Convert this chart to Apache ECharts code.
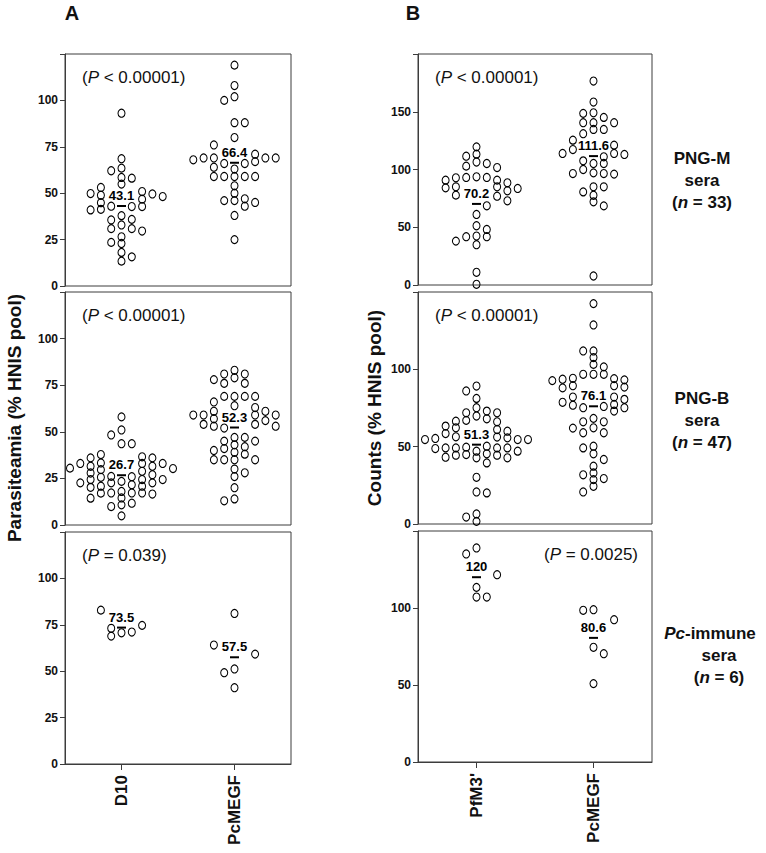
<!DOCTYPE html>
<html>
<head>
<meta charset="utf-8">
<script src="https://cdn.jsdelivr.net/npm/echarts@6.0.0/dist/echarts.min.js"></script>
<style>
html,body{margin:0;padding:0;background:#fff;}
#chart{width:766px;height:853px;}
</style>
</head>
<body>
<div id="chart"></div>
<script>
// ---------------- DATA ----------------
const catsA = ['D10', 'PcMEGF'];
const catsB = ["PfM3'", 'PcMEGF'];

// Panel A (Parasiteamia, % HNIS pool)
const aTopD10 = [93.1, 68.6, 63.5, 62.1, 58.5, 58.1, 54.9, 53.1, 50.9, 49.8, 49.6, 48.9, 48.2, 46.8, 44.9, 43.0, 42.8, 42.8, 41.3, 41.0, 37.9, 35.9, 35.6, 32.9, 30.9, 30.9, 29.6, 26.5, 23.5, 22.9, 18.1, 15.7, 13.4];
const aTopPcMEGF = [119, 108, 102, 100, 88, 88, 80, 76, 71, 69, 69, 69, 69, 68, 67, 66, 66, 64, 63, 59, 59, 59, 59, 59, 54, 50, 47, 46, 46, 45, 43, 38, 25];
const aMidD10 = [58.0, 51.0, 48.3, 43.6, 43.6, 37.8, 36.6, 36.0, 36.0, 33.3, 33.0, 33.0, 33.0, 31.5, 31.5, 30.5, 30.3, 29.7, 28.8, 27.9, 27.0, 26.1, 25.9, 25.6, 24.4, 24.4, 24.4, 23.4, 22.6, 22.6, 22.6, 21.6, 20.8, 20.8, 20.2, 18.0, 17.2, 17.2, 17.2, 17.1, 16.6, 14.5, 14.4, 11.7, 10.8, 9.9, 4.9];
const aMidPcMEGF = [83, 81, 81, 79, 78, 76, 76, 69, 69, 69, 69, 66, 64, 63, 61, 61, 59, 59, 59, 59, 57, 56, 54, 54, 53, 53, 52, 47, 47, 45, 45, 43, 42, 41, 40, 39, 38, 35, 35, 35, 35, 30, 28, 26, 20, 14, 13];
const aBotD10 = [82.9, 74.7, 73.1, 71.1, 70.7, 68.9];
const aBotPcMEGF = [81.1, 64.1, 59.2, 51.2, 49.2, 41.1];

// Panel B (Counts, % HNIS pool)
const bTopPfM3 = [119.6, 113.3, 111.5, 106.5, 105.2, 102.9, 101.7, 93.7, 93.1, 93.1, 92.8, 90.8, 90.8, 88.5, 85.0, 85.0, 84.1, 83.6, 81.6, 77.8, 76.9, 72.9, 68.6, 61.1, 51.3, 48.1, 42.4, 41.8, 41.8, 38.0, 34.9, 11.0, 0.6];
const bTopPcMEGF = [176.6, 158.4, 149.1, 148.6, 145.1, 140.5, 140.5, 140.5, 134.7, 134.7, 131.0, 125.4, 121.1, 117.3, 113.9, 113.9, 113.0, 111.0, 107.5, 105.2, 105.2, 100.0, 97.1, 96.5, 96.5, 96.0, 85.0, 85.0, 80.6, 77.7, 72.0, 68.5, 7.8];
const bMidPfM3 = [89.2, 86.0, 81.2, 75.2, 73.0, 71.9, 71.9, 69.8, 68.0, 67.0, 66.5, 66.1, 63.3, 62.2, 61.1, 60.0, 58.5, 56.4, 56.2, 55.7, 55.3, 54.6, 54.6, 54.6, 50.3, 49.7, 49.2, 49.2, 49.2, 49.2, 48.8, 47.1, 47.1, 45.4, 44.9, 44.5, 44.5, 43.2, 42.8, 42.8, 39.5, 30.2, 20.7, 20.1, 6.5, 4.5, 1.7];
const bMidPcMEGF = [142.5, 128.7, 111.9, 111.9, 107.6, 103.2, 101.6, 96.8, 96.8, 96.8, 94.2, 94.0, 93.6, 93.2, 92.7, 89.4, 89.4, 88.5, 88.0, 82.1, 82.1, 80.6, 78.7, 77.3, 76.8, 76.0, 75.2, 75.2, 73.0, 68.3, 66.1, 66.1, 62.2, 62.0, 59.0, 59.0, 50.3, 49.2, 45.4, 41.7, 37.4, 33.0, 31.8, 29.4, 28.7, 24.4, 20.7];
const bBotPfM3 = [139.0, 135.1, 121.6, 113.4, 107.1, 107.1];
const bBotPcMEGF = [98.9, 98.5, 92.4, 74.5, 70.3, 50.9];

// Group means (as printed)
const meansA = [[43.1, 66.4], [26.7, 52.3], [73.5, 57.5]];
const meansB = [[70.2, 111.6], [51.3, 76.1], [120, 80.6]];

// P values (as printed)
const pTextsA = ['< 0.00001', '< 0.00001', '= 0.039'];
const pTextsB = ['< 0.00001', '< 0.00001', '= 0.0025'];

// Axis ranges & tick labels
const yMaxA = [125, 125, 125];
const yMaxB = [200, 150, 150];
const yStepA = 25;
const yStepB = 50;
const yTicksA = [0, 25, 50, 75, 100];
const yTicksB = [[0, 50, 100, 150], [0, 50, 100], [0, 50, 100]];

// Row annotations
const rowNames = ['PNG-M', 'PNG-B', 'Pc-immune'];
const rowN = [33, 47, 6];

// ---------------- LAYOUT ----------------
const FONT = "'Liberation Sans', Arial, Helvetica, sans-serif";
const INK = '#111';
const FRAME = '#3c3c3c';
const colGeom = { A: { left: 65, width: 226 }, B: { left: 418, width: 234 } };
const rowGeom = {
  A: [{ top: 54, height: 232 }, { top: 292, height: 233 }, { top: 532, height: 232 }],
  B: [{ top: 54, height: 231 }, { top: 292, height: 232 }, { top: 531, height: 231 }]
};
const DOT_W = 7, DOT_H = 8, COL_STEP = 10.3, GAP = 6.5;

function fmt(v) { return Number.isInteger(v) ? String(v) : v.toFixed(1); }
function labelHalfWidth(m) {
  let w = 0;
  for (const ch of fmt(m)) w += (ch === '.') ? 0.278 : 0.556;
  return w * 13 / 2;
}

// Column beeswarm layout computed from the values (returns x offsets in axis units)
function swarm(vals, mean, pxPerY, unitsPerPx) {
  const order = vals.map((v, i) => i).sort((a, b) => vals[b] - vals[a]);
  const cols = new Map();
  const out = new Array(vals.length).fill(0);
  const my = mean * pxPerY;
  const hw = labelHalfWidth(mean);
  let flip = false;
  for (const i of order) {
    const y = vals[i] * pxPerY;
    let done = false;
    for (let k = 0; k < 40 && !done; k++) {
      let cands = [0];
      if (k > 0) {
        const a = (cols.get(-k) || []).length, b = (cols.get(k) || []).length;
        cands = (a < b || (a === b && !flip)) ? [-k, k] : [k, -k];
      }
      for (const c of cands) {
        const list = cols.get(c) || [];
        if (list.some(yy => Math.abs(yy - y) < GAP)) continue;
        const cx = Math.abs(c) * COL_STEP;
        if (cx - DOT_W / 2 < hw) {
          if (y > my + 0.5 && y < my + 21.5) continue;
          if (c === 0 && y > my - 5 && y <= my + 0.5) continue;
        }
        list.push(y);
        cols.set(c, list);
        out[i] = c * COL_STEP * unitsPerPx;
        if (k > 0) flip = !flip;
        done = true;
        break;
      }
    }
  }
  return out;
}

const panels = [
  { col: 'A', row: 0, groups: [aTopD10, aTopPcMEGF], means: meansA[0], cats: catsA, p: pTextsA[0], yMax: yMaxA[0], yStep: yStepA, ticks: yTicksA },
  { col: 'A', row: 1, groups: [aMidD10, aMidPcMEGF], means: meansA[1], cats: catsA, p: pTextsA[1], yMax: yMaxA[1], yStep: yStepA, ticks: yTicksA },
  { col: 'A', row: 2, groups: [aBotD10, aBotPcMEGF], means: meansA[2], cats: catsA, p: pTextsA[2], yMax: yMaxA[2], yStep: yStepA, ticks: yTicksA },
  { col: 'B', row: 0, groups: [bTopPfM3, bTopPcMEGF], means: meansB[0], cats: catsB, p: pTextsB[0], yMax: yMaxB[0], yStep: yStepB, ticks: yTicksB[0] },
  { col: 'B', row: 1, groups: [bMidPfM3, bMidPcMEGF], means: meansB[1], cats: catsB, p: pTextsB[1], yMax: yMaxB[1], yStep: yStepB, ticks: yTicksB[1] },
  { col: 'B', row: 2, groups: [bBotPfM3, bBotPcMEGF], means: meansB[2], cats: catsB, p: pTextsB[2], yMax: yMaxB[2], yStep: yStepB, ticks: yTicksB[2] }
];

const grid = [], xAxis = [], yAxis = [], series = [], graphic = [];

panels.forEach((P, i) => {
  const cg = colGeom[P.col], rg = rowGeom[P.col][P.row];
  grid.push({
    left: cg.left, top: rg.top, width: cg.width, height: rg.height,
    show: true, borderColor: FRAME, borderWidth: 1, backgroundColor: 'transparent',
    containLabel: false, outerBoundsMode: 'none'
  });
  // hidden value axis for positioning the swarm
  xAxis.push({ type: 'value', gridIndex: i, min: -0.5, max: 1.5, show: false, position: 'bottom' });
  // category axis for ticks/labels
  const isBottom = P.row === 2;
  xAxis.push({
    type: 'category', gridIndex: i, data: P.cats, boundaryGap: true, show: isBottom,
    position: 'bottom', offset: 0,
    axisLine: { show: true, onZero: false, lineStyle: { color: FRAME, width: 1 } },
    axisTick: { show: true, alignWithLabel: true, length: 6, lineStyle: { color: FRAME } },
    axisLabel: { rotate: 90, margin: 11, color: INK, fontFamily: FONT, fontWeight: 'bold', fontSize: 17 },
    splitLine: { show: false }
  });
  const ticks = P.ticks;
  yAxis.push({
    type: 'value', gridIndex: i, min: 0, max: P.yMax, interval: P.yStep, position: 'left',
    axisLine: { show: true, onZero: false, lineStyle: { color: FRAME, width: 1 } },
    axisTick: { show: true, length: 5, lineStyle: { color: FRAME } },
    axisLabel: {
      margin: 7, color: INK, fontFamily: FONT, fontWeight: 'bold', fontSize: 12,
      formatter: v => ticks.includes(v) ? String(v) : ''
    },
    splitLine: { show: false }
  });
  const pxPerY = rg.height / P.yMax;
  const unitsPerPx = 2 / cg.width;
  P.groups.forEach((vals, g) => {
    const offs = swarm(vals, P.means[g], pxPerY, unitsPerPx);
    series.push({
      type: 'scatter', xAxisIndex: 2 * i, yAxisIndex: i,
      data: vals.map((v, k) => [g + offs[k], v]),
      symbol: 'circle', symbolSize: [DOT_W, DOT_H],
      itemStyle: { color: 'rgba(255,255,255,0)', borderColor: '#000', borderWidth: 1.1, opacity: 1 },
      silent: true, animation: false, z: 2
    });
  });
  series.push({
    type: 'scatter', xAxisIndex: 2 * i, yAxisIndex: i,
    data: P.means.map((m, g) => [g, m]),
    symbol: 'rect', symbolSize: [9, 2],
    itemStyle: { color: '#000', opacity: 1 },
    label: {
      show: true, position: 'top', distance: 3,
      formatter: p => fmt(p.value[1]),
      color: '#000', opacity: 1, fontFamily: FONT, fontWeight: 'bold', fontSize: 13,
      textBorderWidth: 0, textBorderColor: 'transparent'
    },
    labelLayout: { hideOverlap: false },
    silent: true, animation: false, z: 3
  });
  // P value text
  const rightAligned = (P.col === 'B' && P.row === 2);
  graphic.push({
    type: 'text',
    x: rightAligned ? cg.left + cg.width - 14 : cg.left + 17,
    y: rg.top + 23,
    style: {
      text: '{r|(}{i|P}{r| ' + P.p + ')}',
      rich: {
        r: { fontFamily: FONT, fontSize: 17, fill: INK },
        i: { fontFamily: FONT, fontSize: 17, fontStyle: 'italic', fill: INK }
      },
      fill: INK, fontFamily: FONT, fontSize: 17,
      align: rightAligned ? 'right' : 'left', verticalAlign: 'middle',
      textAlign: rightAligned ? 'right' : 'left', textVerticalAlign: 'middle'
    }
  });
});

function txt(x, y, text, rich, extra) {
  return Object.assign({
    type: 'text', x: x, y: y,
    style: {
      text: text, rich: rich, fill: INK, fontFamily: FONT, fontWeight: 'bold', fontSize: 17,
      align: 'center', verticalAlign: 'middle', textAlign: 'center', textVerticalAlign: 'middle'
    }
  }, extra || {});
}
const boldRich = {
  b: { fontFamily: FONT, fontSize: 17, fontWeight: 'bold', fill: INK },
  bi: { fontFamily: FONT, fontSize: 17, fontWeight: 'bold', fontStyle: 'italic', fill: INK }
};

// Panel letters
graphic.push(txt(72, 13, '{L|A}', { L: { fontFamily: FONT, fontSize: 20, fontWeight: 'bold', fill: INK } }));
graphic.push(txt(413, 13, '{L|B}', { L: { fontFamily: FONT, fontSize: 20, fontWeight: 'bold', fill: INK } }));

// Y axis titles
const yTitleRich = { t: { fontFamily: FONT, fontSize: 19, fontWeight: 'bold', fill: INK } };
graphic.push(txt(14, 418, '{t|Parasiteamia (% HNIS pool)}', yTitleRich, { rotation: Math.PI / 2 }));
graphic.push(txt(374, 408, '{t|Counts (% HNIS pool)}', yTitleRich, { rotation: Math.PI / 2 }));

// Row annotations
const rowY = [158, 398, 633];
rowNames.forEach((name, r) => {
  const nameText = name.startsWith('Pc-') ? '{bi|Pc}{b|' + name.slice(2) + '}' : '{b|' + name + '}';
  const cx = r === 2 ? 710 : 702;
  const cx2 = r === 2 ? 719 : 702;
  graphic.push(txt(cx, rowY[r], nameText, boldRich));
  graphic.push(txt(cx2, rowY[r] + 22, '{b|sera}', boldRich));
  graphic.push(txt(cx2, rowY[r] + 44, '{b|(}{bi|n}{b| = ' + rowN[r] + ')}', boldRich));
});

const chart = echarts.init(document.getElementById('chart'), null, { renderer: 'svg', width: 766, height: 853 });
chart.setOption({
  backgroundColor: '#fff',
  animation: false,
  grid: grid,
  xAxis: xAxis,
  yAxis: yAxis,
  series: series,
  graphic: graphic
});
</script>
</body>
</html>
